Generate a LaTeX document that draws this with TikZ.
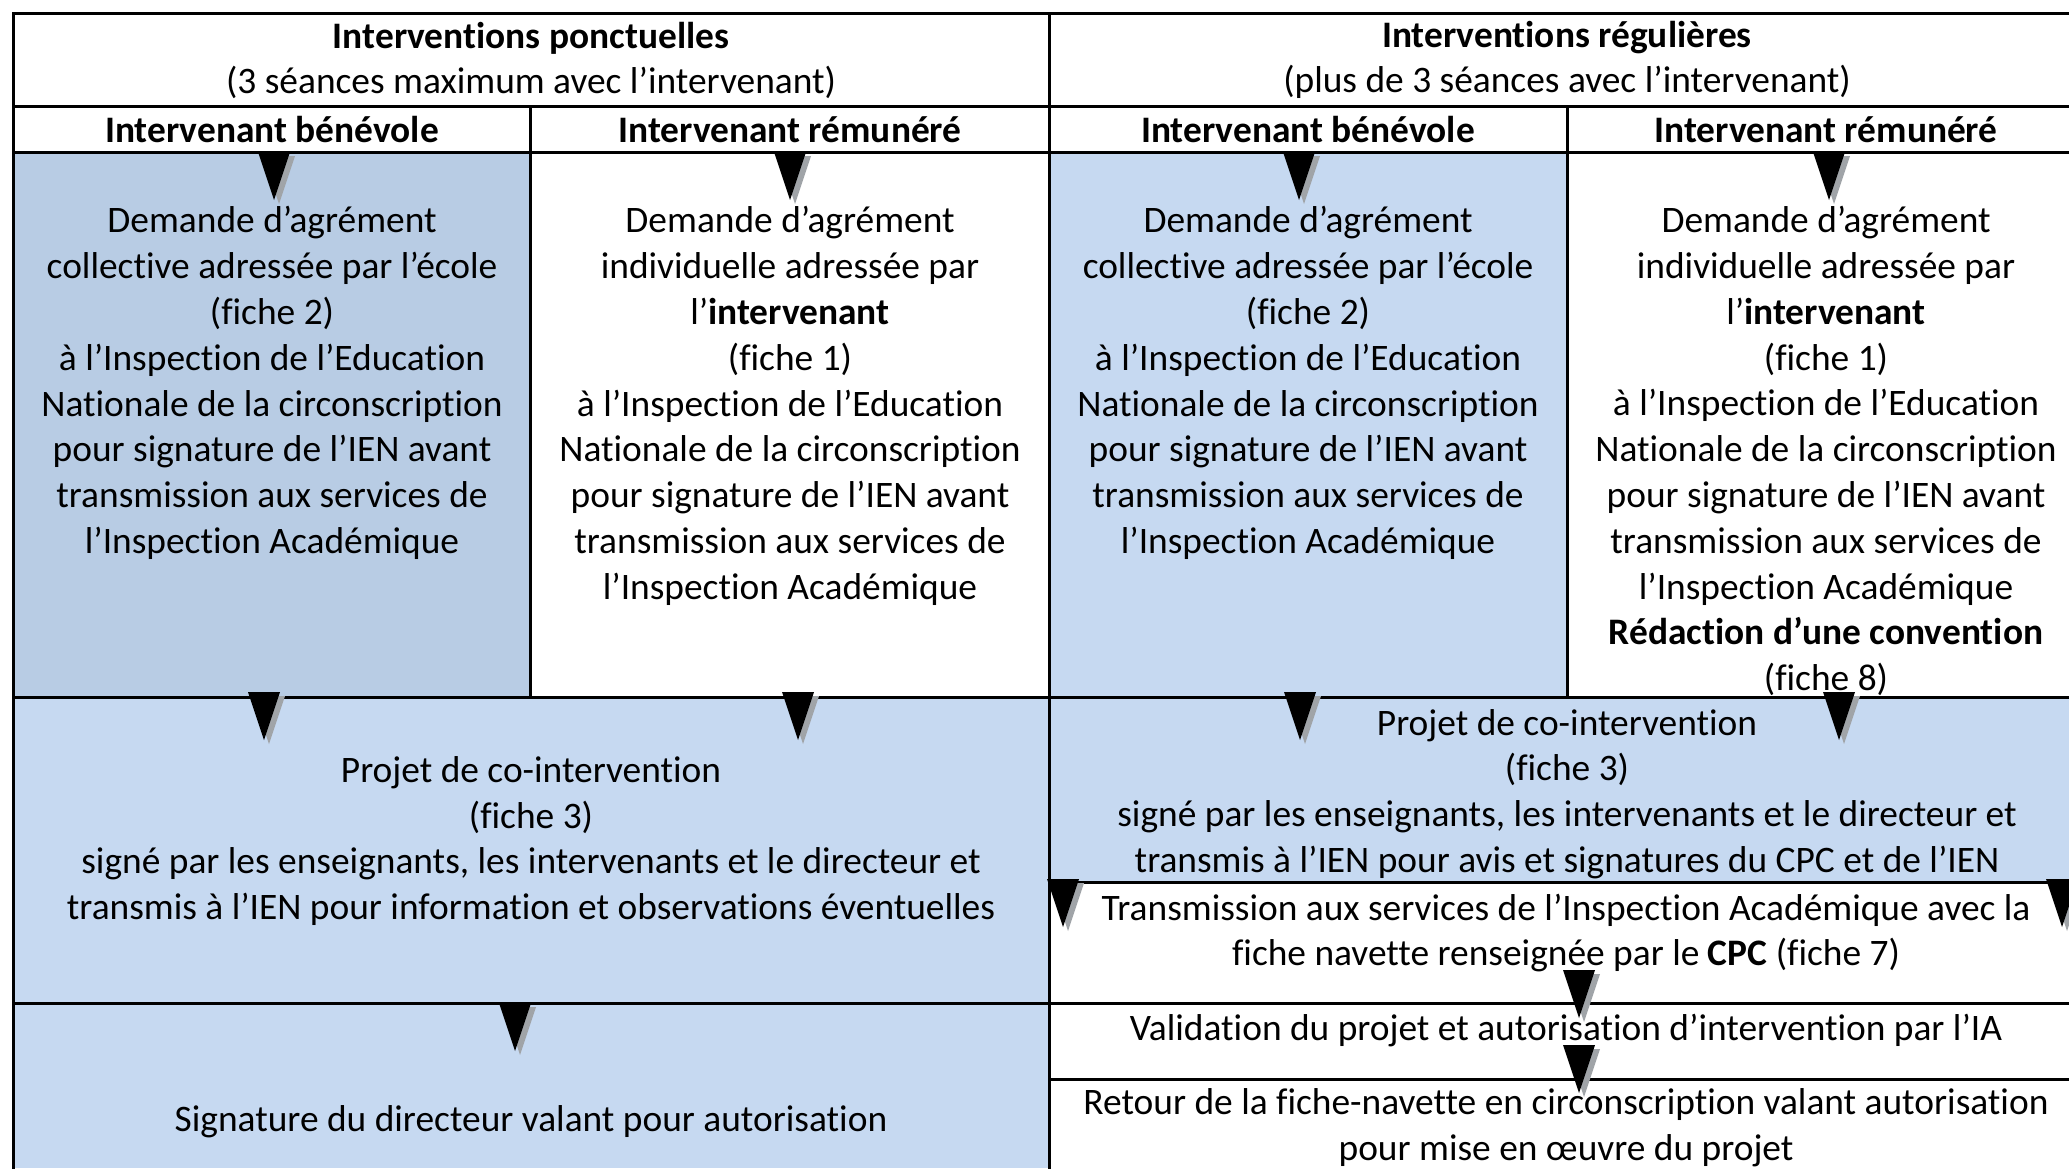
\documentclass[tikz,border=0pt]{standalone}
\usepackage{fontspec}
\setmainfont[Ligatures=NoCommon]{Carlito}
\definecolor{bluedark}{HTML}{B8CCE4}
\definecolor{bluelight}{HTML}{C6D9F1}
\definecolor{shadowgrey}{HTML}{A0A4A8}
\tikzset{
  txt/.style={align=center, inner sep=0pt, font=\fontsize{37.4}{45.8}\selectfont},
  hd/.style={align=center, inner sep=0pt, font=\fontsize{37.4}{45.8}\selectfont\bfseries},
  rule/.style={line width=3pt, line cap=rect},
  downtri/.pic={
    \fill[shadowgrey] (-11,4) -- (21,4) -- (5,52) -- cycle;
    \fill[black] (-16,0) -- (16,0) -- (0,48) -- cycle;
  }
}
\begin{document}
\begin{tikzpicture}[x=1pt, y=-1pt]
\useasboundingbox (0,0) rectangle (2069,1168);
\fill[white] (0,0) rectangle (2069,1168);
% fills
\fill[bluedark] (13,152) rectangle (530,697);
\fill[bluelight] (1049,152) rectangle (1567,697);
\fill[bluelight] (13,697) rectangle (1049,1168);
\fill[bluelight] (1049,697) rectangle (2069,882);
% rules
\draw[rule] (13,13) -- (2069,13);
\draw[rule] (13,106) -- (2069,106);
\draw[rule] (13,152) -- (2069,152);
\draw[rule] (13,697) -- (2069,697);
\draw[rule] (1049,882) -- (2069,882);
\draw[rule] (13,1003) -- (2069,1003);
\draw[rule] (1049,1079) -- (2069,1079);
\draw[rule] (13,13) -- (13,1168);
\draw[rule] (1049,13) -- (1049,1168);
\draw[rule] (530,106) -- (530,697);
\draw[rule] (1567,106) -- (1567,697);
% headers
\node[hd] (h1) at (531,38) {Interventions ponctuelles};
\node[txt] (h1b) at (531,82) {(3 séances maximum avec l’intervenant)};
\node[hd] (h2) at (1567,38) {Interventions régulières};
\node[txt] (h2b) at (1567,82) {(plus de 3 séances avec l’intervenant)};
\node[hd] (s1) at (272,130) {Intervenant bénévole};
\node[hd] (s2) at (790,130) {Intervenant rémunéré};
\node[hd] (s3) at (1308,130) {Intervenant bénévole};
\node[hd] (s4) at (1826,130) {Intervenant rémunéré};
% body row 1
\node[txt] (c1) at (272,383) {Demande d’agrément\\collective adressée par l’école\\(fiche 2)\\à l’Inspection de l’Education\\Nationale de la circonscription\\pour signature de l’IEN avant\\transmission aux services de\\l’Inspection Académique};
\node[txt] (c2) at (790,406) {Demande d’agrément\\individuelle adressée par\\l’\textbf{intervenant}\\(fiche 1)\\à l’Inspection de l’Education\\Nationale de la circonscription\\pour signature de l’IEN avant\\transmission aux services de\\l’Inspection Académique};
\node[txt] (c3) at (1308,383) {Demande d’agrément\\collective adressée par l’école\\(fiche 2)\\à l’Inspection de l’Education\\Nationale de la circonscription\\pour signature de l’IEN avant\\transmission aux services de\\l’Inspection Académique};
\node[txt] (c4) at (1826,451) {Demande d’agrément\\individuelle adressée par\\l’\textbf{intervenant}\\(fiche 1)\\à l’Inspection de l’Education\\Nationale de la circonscription\\pour signature de l’IEN avant\\transmission aux services de\\l’Inspection Académique\\\textbf{Rédaction d’une convention}\\(fiche 8)};
% row 2
\node[txt] (p1) at (531,841) {Projet de co-intervention\\(fiche 3)\\signé par les enseignants, les intervenants et le directeur et\\transmis à l’IEN pour information et observations éventuelles};
\node[txt] (p2) at (1567,794) {Projet de co-intervention\\(fiche 3)\\signé par les enseignants, les intervenants et le directeur et\\transmis à l’IEN pour avis et signatures du CPC et de l’IEN};
\node[txt] (t1) at (1566,933) {Transmission aux services de l’Inspection Académique avec la\\fiche navette renseignée par le \textbf{CPC} (fiche 7)};
\node[txt] (v1) at (1566,1031) {Validation du projet et autorisation d’intervention par l’IA};
\node[txt] (r1) at (1566,1128) {Retour de la fiche-navette en circonscription valant autorisation\\pour mise en œuvre du projet};
\node[txt] (g1) at (531,1122) {Signature du directeur valant pour autorisation};
% arrowheads
\pic at (274,152) {downtri};
\pic at (790,152) {downtri};
\pic at (1299,152) {downtri};
\pic at (1829,152) {downtri};
\pic at (264,692) {downtri};
\pic at (798,692) {downtri};
\pic at (515,1003) {downtri};
\pic at (1300,692) {downtri};
\pic at (1839,692) {downtri};
\pic at (1063,879) {downtri};
\pic at (2062,879) {downtri};
\pic at (1579,970) {downtri};
\pic at (1579,1045) {downtri};
\end{tikzpicture}
\end{document}
